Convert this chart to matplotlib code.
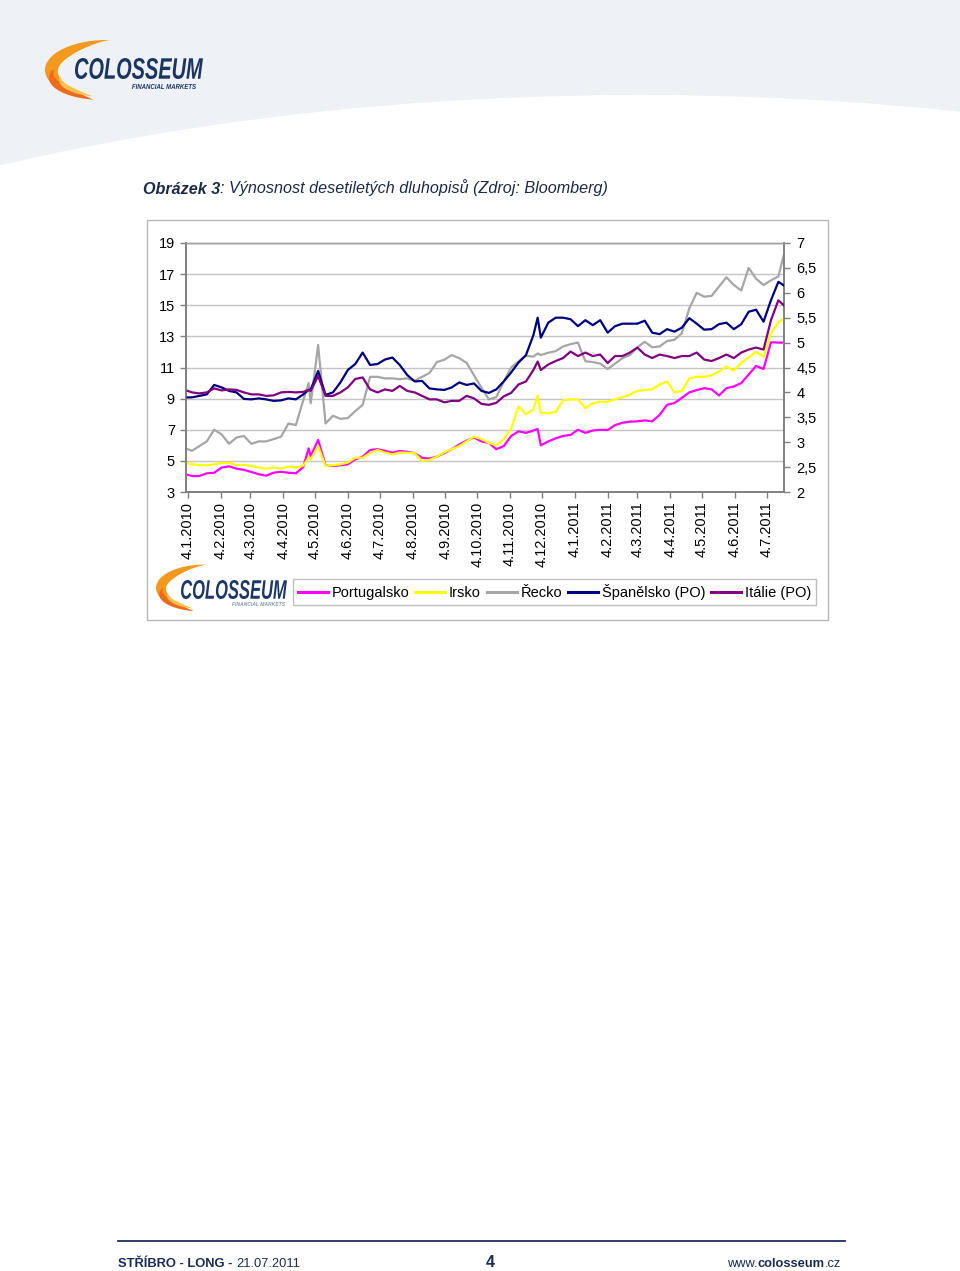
import numpy as np
import pandas as pd
import matplotlib
matplotlib.use('Agg')
import matplotlib.pyplot as plt
import matplotlib.dates as mdates
from matplotlib.patches import Rectangle, Polygon, Ellipse, PathPatch
from matplotlib.textpath import TextPath
from matplotlib.font_manager import FontProperties, fontManager
from matplotlib.transforms import Affine2D
from matplotlib.lines import Line2D

# ------------------------------------------------------------------ data
start_date = '2010-01-04'
end_date = '2011-07-20'
weekly_dates = pd.date_range('2010-01-08', '2011-07-15', freq='W-FRI')
extra_dates = ['2010-04-28', '2010-11-30']
dates = sorted([pd.Timestamp(start_date), pd.Timestamp(end_date)]
               + list(weekly_dates) + [pd.Timestamp(d) for d in extra_dates])

series_names = ['Portugalsko', 'Irsko', 'Řecko', 'Španělsko (PO)', 'Itálie (PO)']

portugalsko = [4.10,
    4.03, 4.03, 4.20, 4.24, 4.57, 4.65, 4.50, 4.42, 4.29, 4.14, 4.05, 4.24, 4.30, 4.24, 4.20, 4.60,
    5.80,
    5.30, 6.35, 4.70, 4.67, 4.72, 4.78, 5.10, 5.27, 5.70, 5.75, 5.65, 5.53, 5.64, 5.58, 5.50, 5.20,
    5.15, 5.27, 5.50, 5.75, 6.05, 6.30, 6.50, 6.25, 6.15, 5.75, 5.95, 6.60, 6.90, 6.80, 6.95,
    7.05,
    6.00, 6.25, 6.45, 6.60, 6.67, 7.00, 6.80, 6.95, 7.00, 6.98, 7.30, 7.45, 7.52, 7.54, 7.60, 7.54,
    7.95, 8.60, 8.72, 9.05, 9.40, 9.55, 9.67, 9.60, 9.20, 9.67, 9.78, 10.00, 10.55, 11.10, 10.90,
    12.62, 12.60,
    12.60]

irsko = [4.85,
    4.78, 4.72, 4.72, 4.78, 4.88, 4.88, 4.72, 4.75, 4.67, 4.57, 4.50, 4.57, 4.50, 4.63, 4.57, 4.70,
    5.20,
    5.10, 5.95, 4.67, 4.72, 4.78, 4.89, 5.20, 5.20, 5.50, 5.70, 5.53, 5.42, 5.53, 5.53, 5.50, 5.00,
    5.06, 5.27, 5.55, 5.75, 5.95, 6.25, 6.55, 6.40, 6.15, 6.00, 6.40, 7.10, 8.50, 8.00, 8.30,
    9.20,
    8.10, 8.05, 8.15, 8.90, 8.95, 8.95, 8.40, 8.70, 8.80, 8.80, 8.95, 9.10, 9.25, 9.50, 9.55, 9.60,
    9.90, 10.10, 9.40, 9.50, 10.30, 10.40, 10.40, 10.50, 10.75, 11.05, 10.80, 11.30, 11.65, 12.00,
    11.70, 13.20, 13.90,
    14.15]

recko = [5.75,
    5.65, 5.95, 6.25, 7.00, 6.70, 6.10, 6.50, 6.60, 6.10, 6.25, 6.25, 6.40, 6.55, 7.40, 7.30, 8.90,
    10.00,
    8.70, 12.45, 7.40, 7.90, 7.70, 7.75, 8.20, 8.60, 10.40, 10.40, 10.30, 10.30, 10.25, 10.30, 10.15,
    10.40, 10.65, 11.35, 11.50, 11.80, 11.60, 11.30, 10.50, 9.70, 8.95, 9.10, 10.10, 11.00, 11.40,
    11.75, 11.70,
    11.90,
    11.80, 11.95, 12.05, 12.35, 12.50, 12.60, 11.40, 11.35, 11.25, 10.90, 11.25, 11.60, 11.80, 12.30,
    12.65, 12.30, 12.35, 12.70, 12.78, 13.20, 14.80, 15.80, 15.55, 15.60, 16.20, 16.80, 16.30, 15.95,
    17.40, 16.70, 16.30, 16.60, 16.85,
    18.20]

spanelsko = [3.90,
    3.90, 3.93, 3.96, 4.15, 4.10, 4.03, 4.00, 3.87, 3.86, 3.88, 3.86, 3.83, 3.84, 3.88, 3.86, 3.96,
    4.05,
    4.06, 4.43, 3.95, 4.00, 4.20, 4.45, 4.57, 4.80, 4.55, 4.57, 4.66, 4.70, 4.55, 4.35, 4.22, 4.23,
    4.08, 4.06, 4.05, 4.10, 4.20, 4.15, 4.18, 4.03, 3.99, 4.06, 4.22, 4.40, 4.60, 4.75, 5.15,
    5.50,
    5.10, 5.40, 5.50, 5.50, 5.47, 5.33, 5.45, 5.35, 5.45, 5.20, 5.33, 5.38, 5.38, 5.38, 5.44, 5.20,
    5.17, 5.27, 5.22, 5.30, 5.49, 5.38, 5.26, 5.27, 5.37, 5.40, 5.27, 5.37, 5.62, 5.66, 5.42, 5.85,
    6.22,
    6.15]

italie = [4.03,
    4.00, 3.98, 4.00, 4.08, 4.04, 4.06, 4.05, 4.00, 3.96, 3.96, 3.93, 3.94, 4.00, 4.01, 4.00, 4.01,
    4.05,
    4.03, 4.33, 3.93, 3.93, 4.00, 4.10, 4.27, 4.30, 4.06, 4.00, 4.06, 4.03, 4.13, 4.03, 4.00, 3.93,
    3.86, 3.86, 3.80, 3.83, 3.83, 3.93, 3.88, 3.77, 3.75, 3.79, 3.92, 3.99, 4.16, 4.22, 4.45,
    4.62,
    4.45, 4.56, 4.63, 4.69, 4.82, 4.73, 4.80, 4.73, 4.76, 4.59, 4.73, 4.73, 4.80, 4.90, 4.76, 4.69,
    4.76, 4.73, 4.69, 4.73, 4.73, 4.80, 4.66, 4.63, 4.69, 4.76, 4.69, 4.80, 4.86, 4.90, 4.86, 5.45,
    5.85,
    5.75]

tick_dates = pd.date_range('2010-01-04', '2011-07-04', freq=pd.DateOffset(months=1))
tick_labels = [f"{d.day}.{d.month}.{d.year}" for d in tick_dates]
left_ticks = list(range(3, 20, 2))
right_ticks = [2, 2.5, 3, 3.5, 4, 4.5, 5, 5.5, 6, 6.5, 7]

caption_parts = [("Obrázek 3", 'bold'), (": Výnosnost desetiletých dluhopisů (Zdroj: Bloomberg)", 'normal')]
footer_left = [("STŘÍBRO - LONG - ", 'bold'), ("21.07.2011", 'normal')]
footer_mid = [("4", 'bold')]
footer_right = [("www.", 'normal'), ("colosseum", 'bold'), (".cz", 'normal')]

colors = ['#ff00ff', '#ffff00', '#a6a6a6', '#000080', '#800080']

# ------------------------------------------------------------------ figure
W, H = 960, 1271
fig = plt.figure(figsize=(W / 100, H / 100), dpi=100)
fig.patch.set_facecolor('white')
bg = fig.add_axes([0, 0, 1, 1])
bg.set_xlim(0, W)
bg.set_ylim(H, 0)
bg.axis('off')

names = {f.name for f in fontManager.ttflist}
NARROW = 'Liberation Sans Narrow' if 'Liberation Sans Narrow' in names else 'Liberation Sans'
SANS = 'Liberation Sans'

# header background with white swoosh
bg.add_patch(Rectangle((0, 0), W, 178, color='#eef1f5', lw=0, zorder=0))
bg.add_patch(Ellipse((640, 95 + 543), 2600, 1086, color='white', lw=0, zorder=1))


def crescent(cx, cy, rx, ry, t0, t1, th, color, z=3):
    t = np.radians(np.linspace(t0, t1, 120))
    w = th * np.sin(np.pi * (t - t[0]) / (t[-1] - t[0]))
    xo, yo = cx + rx * np.cos(t), cy + ry * np.sin(t)
    xi, yi = cx + (rx - w) * np.cos(t), cy + (ry - w) * np.sin(t)
    pts = np.concatenate([np.c_[xo, yo], np.c_[xi, yi][::-1]])
    bg.add_patch(Polygon(pts, closed=True, color=color, lw=0, zorder=z))


def fit_text(s, box, color, family=NARROW, weight='bold', style='italic', z=4):
    x0, y0, x1, y1 = box
    tp = TextPath((0, 0), s, size=10,
                  prop=FontProperties(family=family, weight=weight, style=style))
    ext = tp.get_extents()
    sx = (x1 - x0) / ext.width
    sy = (y1 - y0) / ext.height
    tr = Affine2D().translate(-ext.x0, -ext.y1).scale(sx, -sy).translate(x0, y0)
    bg.add_patch(PathPatch(tr.transform_path(tp), color=color, lw=0, zorder=z))


def logo(sx0, sy0, scale):
    # swoosh: upper orange arc and lower lighter arcs
    crescent(sx0 + 62 * scale, sy0 + 32 * scale, 62 * scale, 30 * scale, 105, 272, 13 * scale, '#f39a1e')
    crescent(sx0 + 58 * scale, sy0 + 40 * scale, 54 * scale, 22 * scale, 100, 205, 9 * scale, '#f06a1c')
    crescent(sx0 + 60 * scale, sy0 + 42 * scale, 46 * scale, 17 * scale, 105, 195, 5 * scale, '#f8c24e')


# top logo
logo(45, 38, 1.0)
fit_text("COLOSSEUM", (75, 58, 203, 79), '#1b3560')
fit_text("FINANCIAL MARKETS", (132, 84, 196, 89), '#1b3560')

renderer = fig.canvas.get_renderer()


def text_width(s, size, family, weight, style):
    t1 = bg.text(0, 0, s + '|', fontsize=size, family=family, weight=weight, style=style)
    t2 = bg.text(0, 0, '|', fontsize=size, family=family, weight=weight, style=style)
    w = t1.get_window_extent(renderer).width - t2.get_window_extent(renderer).width
    t1.remove(); t2.remove()
    return w


def rich(x, y, parts, family, size, color, style='normal', target_w=None, align='left'):
    if target_w:
        tot = sum(text_width(s, size, family, wt, style) for s, wt in parts)
        size = size * target_w / tot
    widths = [text_width(s, size, family, wt, style) for s, wt in parts]
    total = sum(widths)
    cx = x if align == 'left' else (x - total if align == 'right' else x - total / 2)
    for (s, wt), wd in zip(parts, widths):
        bg.text(cx, y, s, fontsize=size, family=family, weight=wt, style=style,
                color=color, va='baseline', ha='left', zorder=5)
        cx += wd


# caption
rich(143, 193.5, caption_parts, NARROW, 12, '#1c2a48', style='italic', target_w=463)

# chart frame
bg.add_patch(Rectangle((147, 220), 681, 400, facecolor='white', edgecolor='#b8b8b8', lw=1.0, zorder=2))

# second logo in chart
logo(156, 563, 0.78)
fit_text("COLOSSEUM", (181, 580, 287, 599), '#1d3866')
fit_text("FINANCIAL MARKETS", (232, 602, 285, 606), '#8a98aa')

# footer
bg.plot([118, 845], [1241, 1241], color='#1f2f5f', lw=1.3, zorder=3)
rich(118, 1267, footer_left, NARROW, 11, '#1a2b55', target_w=182)
rich(490.5, 1267, footer_mid, NARROW, 11.5, '#1a2b55', align='center')
rich(841, 1267, footer_right, NARROW, 11, '#1a2b55', target_w=115, align='right')

# ------------------------------------------------------------------ chart
ax = fig.add_axes([186 / W, 1 - 492 / H, (784 - 186) / W, (492 - 243) / H])
ax.set_zorder(5)
ax2 = ax.twinx()

x = pd.to_datetime(dates)
ax.plot(x, portugalsko, color=colors[0], lw=1.6, zorder=3)
ax.plot(x, irsko, color=colors[1], lw=1.6, zorder=4)
ax.plot(x, recko, color=colors[2], lw=1.6, zorder=2)
ax2.plot(x, spanelsko, color=colors[3], lw=1.6, zorder=3)
ax2.plot(x, italie, color=colors[4], lw=1.6, zorder=4)

d0 = mdates.date2num(pd.Timestamp('2010-01-04'))
ax.set_xlim(d0 - 1.6, d0 + 562.3)
ax.set_ylim(3, 19)
ax2.set_ylim(2, 7)

ax.set_xticks(mdates.date2num(tick_dates))
ax.set_xticklabels(tick_labels, rotation=90, fontsize=10.5, family=SANS, color='black')
ax.set_yticks(left_ticks)
ax.set_yticklabels([str(v) for v in left_ticks], fontsize=10.5, family=SANS)
ax2.set_yticks(right_ticks)
ax2.set_yticklabels([(str(int(v)) if float(v).is_integer() else str(v).replace('.', ','))
                     for v in right_ticks], fontsize=10.5, family=SANS)

ax.yaxis.grid(True, color='#c4c4c4', lw=1.0)
ax.set_axisbelow(True)
ax.tick_params(axis='x', direction='out', length=4, width=1, color='#808080', pad=3)
ax.tick_params(axis='y', direction='out', length=4, width=1, color='#808080', pad=4)
ax2.tick_params(axis='y', direction='out', length=4, width=1, color='#808080', pad=5)

for a in (ax, ax2):
    for side in ('left', 'bottom', 'right'):
        a.spines[side].set_color('#808080')
        a.spines[side].set_linewidth(1.2)
    a.spines['top'].set_color('#a0a0a0')
    a.spines['top'].set_linewidth(1.0)

handles = [Line2D([], [], color=c, lw=2.2) for c in colors]
leg = fig.legend(handles, series_names, loc='center',
                 bbox_to_anchor=((292 + 817) / 2 / W, 1 - 592 / H),
                 ncol=5, frameon=True, fancybox=False, edgecolor='#b0b0b0',
                 prop=FontProperties(family=SANS, size=10.5),
                 handlelength=2.05, handletextpad=0.25, columnspacing=0.42,
                 borderpad=0.32, borderaxespad=0)
leg.get_frame().set_linewidth(1.0)

fig.savefig('out.png', dpi=100, facecolor='white')
